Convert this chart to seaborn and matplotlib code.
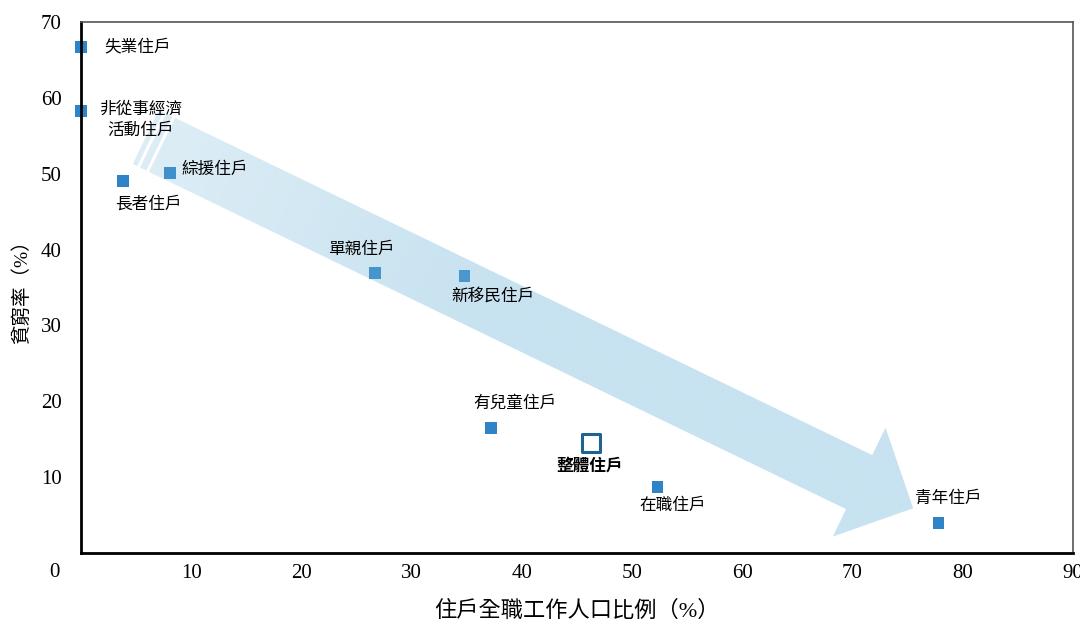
import numpy as np
import matplotlib
matplotlib.use("Agg")
import matplotlib.pyplot as plt
from matplotlib.path import Path
import seaborn as sns

# household groups: name, share of full-time workers (%), poverty rate (%)
GROUPS = ["失業住戶", "非從事經濟\n活動住戶", "綜援住戶", "長者住戶", "單親住戶",
          "新移民住戶", "有兒童住戶", "在職住戶", "青年住戶"]
WORK_SHARE = [0.0, 0.0, 8.1, 3.8, 26.7, 34.8, 37.2, 52.3, 77.8]
POVERTY = [66.7, 58.3, 50.1, 49.0, 36.9, 36.5, 16.5, 8.7, 4.0]

OVERALL_NAME = "整體住戶"
OVERALL_X = [46.3]
OVERALL_Y = [14.5]

X_TICKS = [10, 20, 30, 40, 50, 60, 70, 80, 90]
Y_TICKS = [10, 20, 30, 40, 50, 60, 70]

# label offsets in points (dx, dy) and alignment
LABEL_POS = {
    "失業住戶": (17, 0, "left"),
    "非從事經濟\n活動住戶": (43, -7, "center"),
    "綜援住戶": (8, 2, "left"),
    "長者住戶": (18, -17, "center"),
    "單親住戶": (-10, 17, "center"),
    "新移民住戶": (20, -15, "center"),
    "有兒童住戶": (17, 17, "center"),
    "在職住戶": (11, -14, "center"),
    "青年住戶": (7, 17, "center"),
}

# arrow decoration (data coords for the ends, pixel sizes for the body)
ARROW_TAIL = (7.35, 53.8)
ARROW_TIP = (75.5, 5.9)
SHAFT_W, HEAD_W, HEAD_L = 60, 121, 60

sns.set_style("white")
plt.rcParams["font.family"] = ["Liberation Serif", "Noto Sans CJK TC"]
plt.rcParams["text.color"] = "black"
plt.rcParams["axes.labelcolor"] = "black"
plt.rcParams["xtick.color"] = "black"
plt.rcParams["ytick.color"] = "black"

fig = plt.figure(figsize=(10.8, 6.25), dpi=100)
ax = fig.add_axes([81 / 1080, 72 / 625, 992 / 1080, 531 / 625])
ax.set_xlim(0, 90)
ax.set_ylim(0, 70)

blue = "#2e84c6"
sns.scatterplot(x=WORK_SHARE, y=POVERTY, marker="s", s=72, color=blue,
                edgecolor="none", ax=ax, zorder=2, clip_on=False)
sns.scatterplot(x=OVERALL_X, y=OVERALL_Y, marker="s", s=150, facecolor="white",
                edgecolor="#1f6391", linewidth=2.2, ax=ax, zorder=2)

# --- big gradient arrow, built in pixel space then mapped back to data ---
T = ax.transData.transform(ARROW_TAIL)
P = ax.transData.transform(ARROW_TIP)
L = np.linalg.norm(P - T)
u = (P - T) / L
n = np.array([-u[1], u[0]])
J = P - u * HEAD_L
body = [T + n * SHAFT_W / 2, J + n * SHAFT_W / 2, J + n * HEAD_W / 2, P,
        J - n * HEAD_W / 2, J - n * SHAFT_W / 2, T - n * SHAFT_W / 2, T + n * SHAFT_W / 2]
polys = [body]
for a, b in [(3, 10), (13, 18)]:
    polys.append([T - u * a + n * SHAFT_W / 2, T - u * a - n * SHAFT_W / 2,
                  T - u * b - n * SHAFT_W / 2, T - u * b + n * SHAFT_W / 2,
                  T - u * a + n * SHAFT_W / 2])
inv = ax.transData.inverted()
paths = [Path(inv.transform(np.array(p)), closed=True) for p in polys]
clip = Path.make_compound_path(*paths)

gx, gy = np.meshgrid(np.linspace(0, 90, 600), np.linspace(70, 0, 470))
disp = ax.transData.transform(np.column_stack([gx.ravel(), gy.ravel()]))
t = ((disp - T) @ u / L).reshape(gx.shape)
alpha = 0.24 + 0.16 * np.clip((t + 0.03) / 0.45, 0, 1)
rgba = np.zeros(gx.shape + (4,))
rgba[..., 0] = 116 / 255
rgba[..., 1] = 183 / 255
rgba[..., 2] = 218 / 255
rgba[..., 3] = alpha
im = ax.imshow(rgba, extent=[0, 90, 0, 70], aspect="auto", zorder=3,
               interpolation="bilinear")
im.set_clip_path(clip, ax.transData)
ax.set_xlim(0, 90)
ax.set_ylim(0, 70)

# labels
for name, x, y in zip(GROUPS, WORK_SHARE, POVERTY):
    dx, dy, ha = LABEL_POS[name]
    ax.annotate(name, (x, y), xytext=(dx, dy), textcoords="offset points",
                ha=ha, va="center", fontsize=12, zorder=4, linespacing=1.4,
                annotation_clip=False)
ax.annotate(OVERALL_NAME, (OVERALL_X[0], OVERALL_Y[0]), xytext=(-1, -17),
            textcoords="offset points", ha="center", va="center", fontsize=12,
            fontweight="bold", zorder=4)

# axes styling
ax.set_xticks(X_TICKS)
ax.set_yticks(Y_TICKS)
ax.tick_params(direction="in", length=6, width=1, labelsize=15)
ax.tick_params(axis="y", pad=14)
ax.tick_params(axis="x", pad=8)
for side in ["left", "bottom"]:
    ax.spines[side].set_linewidth(2)
    ax.spines[side].set_color("black")
for side in ["top", "right"]:
    ax.spines[side].set_linewidth(1.2)
    ax.spines[side].set_color("#555555")
ax.annotate("0", (0, 0), xycoords="axes fraction", xytext=(-19, -14),
            textcoords="offset points", ha="center", va="center", fontsize=15)

ax.set_xlabel("住戶全職工作人口比例（%）", fontsize=16, labelpad=13)
ax.set_ylabel("貧窮率（%）", fontsize=14, labelpad=7)

fig.savefig("out.png", dpi=100)
